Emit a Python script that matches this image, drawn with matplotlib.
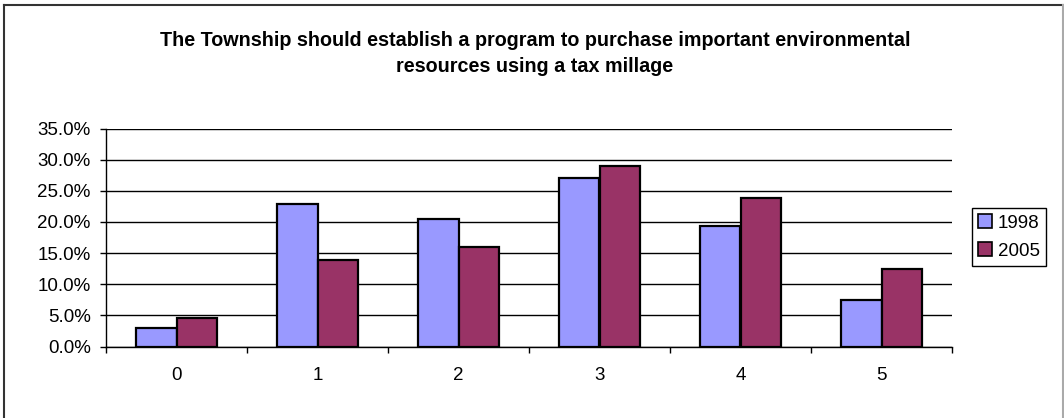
import matplotlib.pyplot as plt
import numpy as np
from matplotlib.lines import Line2D

plt.rcParams['font.family'] = ['Liberation Sans', 'DejaVu Sans']

# data
categories = ['0', '1', '2', '3', '4', '5']
series_names = ['1998', '2005']
values_1998 = [2.9, 22.8, 20.5, 27.0, 19.4, 7.4]
values_2005 = [4.6, 13.9, 16.0, 28.9, 23.9, 12.5]
y_ticks = [0, 5, 10, 15, 20, 25, 30, 35]

title = ('The Township should establish a program to purchase important environmental\n'
         'resources using a tax millage')

W, H = 1064, 418
fig = plt.figure(figsize=(W / 100, H / 100), dpi=100)
ax = fig.add_axes([106 / W, 71.5 / H, 846 / W, 218 / H])

x = np.arange(len(categories))
bw = 0.2857
ax.bar(x - bw / 2, values_1998, bw, color='#9999FF', edgecolor='black',
       linewidth=1.6, label=series_names[0], zorder=3)
ax.bar(x + bw / 2, values_2005, bw, color='#993366', edgecolor='black',
       linewidth=1.6, label=series_names[1], zorder=3)

ax.set_xlim(-0.5, len(categories) - 0.5)
ax.set_ylim(0, 35)

ax.set_yticks(y_ticks)
ax.set_yticklabels(['%.1f%%' % v for v in y_ticks])
ax.yaxis.grid(True, color='black', linewidth=1.0, zorder=0)
ax.set_axisbelow(True)

ax.set_xticks(x)
ax.set_xticklabels(categories)
ax.set_xticks(np.arange(-0.5, len(categories)), minor=True)
ax.tick_params(axis='x', which='major', length=0, pad=15, labelsize=13.5)
ax.tick_params(axis='x', which='minor', length=4.5, width=1, direction='out')
ax.tick_params(axis='y', length=4.5, width=1, pad=6.5, labelsize=13.5, direction='out')

for side in ['top', 'right']:
    ax.spines[side].set_visible(False)
for side in ['left', 'bottom']:
    ax.spines[side].set_color('black')
    ax.spines[side].set_linewidth(1.0)

fig.text(535 / W, 1 - 53.5 / H, title, ha='center', va='center', fontsize=14.2,
         fontweight='bold', linespacing=1.5)

handles = [plt.Rectangle((0, 0), 1, 1, facecolor='#9999FF', edgecolor='black', linewidth=1.2),
           plt.Rectangle((0, 0), 1, 1, facecolor='#993366', edgecolor='black', linewidth=1.2)]
leg = fig.legend(handles, series_names, loc='center',
                 bbox_to_anchor=(1009 / W, 1 - 237 / H), fontsize=13.5,
                 fancybox=False, edgecolor='black', framealpha=1,
                 handlelength=0.75, handleheight=0.75, handletextpad=0.3,
                 borderpad=0.35, labelspacing=0.55, borderaxespad=0)
leg.get_frame().set_linewidth(1.0)

# outer chart border
fig.add_artist(Line2D([4 / W, 1063 / W], [1 - 5 / H, 1 - 5 / H], color='#333333', linewidth=1.5))
fig.add_artist(Line2D([4 / W, 4 / W], [1 - 5 / H, 0], color='#333333', linewidth=1.5))
fig.add_artist(Line2D([1063 / W, 1063 / W], [1 - 5 / H, 0], color='#aaaaaa', linewidth=1.5))

fig.savefig('out.png', dpi=100)
